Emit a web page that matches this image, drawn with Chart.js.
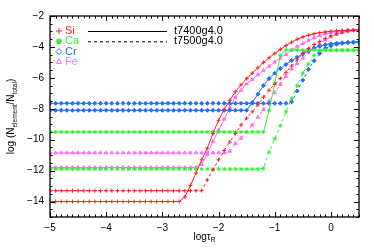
<!DOCTYPE html>
<html lang="en">
<head>
<meta charset="UTF-8">
<title>log N vs log tau</title>
<style>
  html, body { margin: 0; padding: 0; background: #fff; }
</style>
</head>
<body>
<canvas id="myChart" width="374" height="249"></canvas>
<script src="https://cdn.jsdelivr.net/npm/chart.js"></script>
<script>
// depth grid, log tau_R
var logTau = [
    -5.0, -4.9, -4.8, -4.7, -4.6, -4.5, -4.4, -4.3, -4.2, -4.1,
    -4.0, -3.9, -3.8, -3.7, -3.6, -3.5, -3.4, -3.3, -3.2, -3.1,
    -3.0, -2.9, -2.8, -2.7, -2.6, -2.5, -2.4, -2.3, -2.2, -2.1,
    -2.0, -1.9, -1.8, -1.7, -1.6, -1.5, -1.4, -1.3, -1.2, -1.1,
    -1.0, -0.9, -0.8, -0.7, -0.6, -0.5, -0.4, -0.3, -0.2, -0.1,
    0.0, 0.1, 0.2, 0.3, 0.4, 0.5
];

// log(N_el/N_tot), solid = t7400g4.0, dashed = t7500g4.0
var siT7400 = [
    -14, -14, -14, -14, -14, -14, -14, -14, -14, -14,
    -14, -14, -14, -14, -14, -14, -14, -14, -14, -14,
    -14, -14, -14, -14, -13.7, -12.95, -12.15, -11.3, -10.55, -9.6,
    -8.75, -8.05, -7.45, -6.9, -6.45, -6.05, -5.7, -5.35, -5.0, -4.7,
    -4.42, -4.15, -3.92, -3.7, -3.5, -3.36, -3.24, -3.15, -3.08, -3.03,
    -2.99, -2.96, -2.94, -2.92, -2.91, -2.9
];
var siT7500 = [
    -13.3, -13.3, -13.3, -13.3, -13.3, -13.3, -13.3, -13.3, -13.3, -13.3,
    -13.3, -13.3, -13.3, -13.3, -13.3, -13.3, -13.3, -13.3, -13.3, -13.3,
    -13.3, -13.3, -13.3, -13.3, -13.3, -13.3, -13.3, -13.3, -12.6, -11.95,
    -11.3, -10.7, -10.15, -9.6, -9.05, -8.6, -8.2, -7.75, -7.25, -6.8,
    -6.42, -6.04, -5.64, -5.23, -4.83, -4.42, -4.1, -3.85, -3.65, -3.45,
    -3.28, -3.15, -3.05, -2.98, -2.93, -2.9
];
var caT7400 = [
    -9.5, -9.5, -9.5, -9.5, -9.5, -9.5, -9.5, -9.5, -9.5, -9.5,
    -9.5, -9.5, -9.5, -9.5, -9.5, -9.5, -9.5, -9.5, -9.5, -9.5,
    -9.5, -9.5, -9.5, -9.5, -9.5, -9.5, -9.5, -9.5, -9.5, -9.5,
    -9.5, -9.5, -9.5, -9.5, -9.5, -9.5, -9.5, -9.5, -9.5, -8.1,
    -6.35, -4.55, -4.2, -4.2, -4.2, -4.2, -4.2, -4.2, -4.2, -4.2,
    -4.2, -4.2, -4.2, -4.2, -4.2, -4.2
];
var caT7500 = [
    -11.9, -11.9, -11.9, -11.9, -11.9, -11.9, -11.9, -11.9, -11.9, -11.9,
    -11.9, -11.9, -11.9, -11.9, -11.9, -11.9, -11.9, -11.9, -11.9, -11.9,
    -11.9, -11.9, -11.9, -11.9, -11.9, -11.9, -11.9, -11.9, -11.9, -11.9,
    -11.9, -11.9, -11.9, -11.9, -11.9, -11.9, -11.9, -11.9, -11.85, -10.8,
    -9.95, -9.1, -8.2, -7.35, -6.5, -5.7, -5.1, -4.55, -4.22, -4.22,
    -4.22, -4.22, -4.22, -4.22, -4.22, -4.22
];
var crT7400 = [
    -8.1, -8.1, -8.1, -8.1, -8.1, -8.1, -8.1, -8.1, -8.1, -8.1,
    -8.1, -8.1, -8.1, -8.1, -8.1, -8.1, -8.1, -8.1, -8.1, -8.1,
    -8.1, -8.1, -8.1, -8.1, -8.1, -8.1, -8.1, -8.1, -8.1, -8.1,
    -8.1, -8.1, -8.1, -8.1, -8.1, -8.1, -7.6, -7.05, -6.5, -6.05,
    -5.7, -5.4, -5.13, -4.88, -4.66, -4.45, -4.25, -4.08, -3.95, -3.86,
    -3.8, -3.76, -3.73, -3.7, -3.69, -3.68
];
var crT7500 = [
    -7.65, -7.65, -7.65, -7.65, -7.65, -7.65, -7.65, -7.65, -7.65, -7.65,
    -7.65, -7.65, -7.65, -7.65, -7.65, -7.65, -7.65, -7.65, -7.65, -7.65,
    -7.65, -7.65, -7.65, -7.65, -7.65, -7.65, -7.65, -7.65, -7.65, -7.65,
    -7.65, -7.65, -7.65, -7.65, -7.65, -7.65, -7.65, -7.65, -7.65, -7.65,
    -7.65, -7.65, -7.65, -7.55, -6.85, -6.15, -5.45, -4.9, -4.42, -4.1,
    -3.93, -3.83, -3.77, -3.73, -3.7, -3.69
];
var feT7400 = [
    -11.8, -11.8, -11.8, -11.8, -11.8, -11.8, -11.8, -11.8, -11.8, -11.8,
    -11.8, -11.8, -11.8, -11.8, -11.8, -11.8, -11.8, -11.8, -11.8, -11.8,
    -11.8, -11.8, -11.8, -11.8, -11.8, -11.8, -11.8, -11.6, -10.95, -10.1,
    -9.4, -8.67, -7.95, -7.25, -6.8, -6.4, -6.1, -5.8, -5.52, -5.25,
    -4.98, -4.72, -4.48, -4.2, -3.98, -3.78, -3.58, -3.42, -3.28, -3.16,
    -3.07, -3.0, -2.95, -2.92, -2.9, -2.88
];
var feT7500 = [
    -10.85, -10.85, -10.85, -10.85, -10.85, -10.85, -10.85, -10.85, -10.85, -10.85,
    -10.85, -10.85, -10.85, -10.85, -10.85, -10.85, -10.85, -10.85, -10.85, -10.85,
    -10.85, -10.85, -10.85, -10.85, -10.85, -10.85, -10.85, -10.85, -10.85, -10.85,
    -10.85, -10.85, -10.75, -10.25, -9.9, -9.5, -9.05, -8.55, -8.05, -7.5,
    -6.95, -6.42, -5.9, -5.42, -5.08, -4.72, -4.35, -4.02, -3.8, -3.55,
    -3.35, -3.18, -3.06, -2.98, -2.93, -2.9
];

var elements = ['Si', 'Ca', 'Cr', 'Fe'];
var models = ['t7400g4.0', 't7500g4.0'];
var xTicks = [-5, -4, -3, -2, -1, 0];
var yTicks = [-14, -12, -10, -8, -6, -4, -2];

var colors = { Si: '#ff2020', Ca: '#33ee33', Cr: '#1f6fff', Fe: '#ff6cff' };
var markers = { Si: 'cross', Ca: 'star', Cr: 'rectRot', Fe: 'triangle' };
var series = {
    Si: [siT7400, siT7500],
    Ca: [caT7400, caT7500],
    Cr: [crT7400, crT7500],
    Fe: [feT7400, feT7500]
};
var FONT = "'Liberation Sans', Arial, Helvetica, sans-serif";

function minus(v) {
    return String(v).replace('-', '\u2212');
}

var datasets = [];
elements.forEach(function (el) {
    series[el].forEach(function (vals, m) {
        datasets.push({
            label: el + ' ' + models[m],
            data: logTau.map(function (t, k) { return { x: t, y: vals[k] }; }),
            borderColor: colors[el],
            backgroundColor: colors[el],
            borderWidth: 1,
            borderDash: m == 1 ? [3, 3] : [],
            pointStyle: markers[el],
            pointRadius: 2,
            pointBorderWidth: 1,
            pointBackgroundColor: colors[el],
            pointBorderColor: colors[el],
            tension: 0
        });
    });
});

// IDL-like frame with inward ticks, legend and axis titles
var idlStyle = {
    id: 'idlStyle',
    afterDraw: function (chart) {
        var ctx = chart.ctx;
        var a = chart.chartArea;
        var xs = chart.scales.x, ys = chart.scales.y;
        ctx.save();
        ctx.strokeStyle = '#000';
        ctx.lineWidth = 1.3;
        ctx.strokeRect(a.left, a.top, a.right - a.left, a.bottom - a.top);

        ctx.lineWidth = 1;
        ctx.beginPath();
        for (var i = -50; i <= 5; i++) {
            var px = Math.round(xs.getPixelForValue(i / 10)) + 0.5;
            var len = (i % 10 == 0) ? 5 : 2.5;
            ctx.moveTo(px, a.bottom); ctx.lineTo(px, a.bottom - len);
            ctx.moveTo(px, a.top); ctx.lineTo(px, a.top + len);
        }
        for (var j = -30; j <= -4; j++) {
            var py = Math.round(ys.getPixelForValue(j / 2)) + 0.5;
            var l2 = (j % 4 == 0) ? 5 : 2.5;
            ctx.moveTo(a.left, py); ctx.lineTo(a.left + l2, py);
            ctx.moveTo(a.right, py); ctx.lineTo(a.right - l2, py);
        }
        ctx.stroke();

        // element legend (open symbols like the original)
        ctx.textBaseline = 'middle';
        ctx.textAlign = 'left';
        ctx.font = '11px ' + FONT;
        elements.forEach(function (el, i) {
            var y = 31 + i * 10.3;
            ctx.fillStyle = el == 'Ca' ? colors[el] : 'rgba(0,0,0,0)';
            ctx.strokeStyle = colors[el];
            ctx.lineWidth = el == 'Ca' ? 1.5 : 1;
            Chart.helpers.drawPoint(ctx, {
                pointStyle: markers[el], radius: 3, borderWidth: ctx.lineWidth
            }, 59, y);
            ctx.fillStyle = colors[el];
            ctx.fillText(el, 65, y);
        });

        // model legend
        ctx.strokeStyle = '#000';
        ctx.fillStyle = '#000';
        ctx.lineWidth = 1;
        models.forEach(function (m, i) {
            var y = 31 + i * 10.3;
            ctx.setLineDash(i == 1 ? [3, 3] : []);
            ctx.beginPath();
            ctx.moveTo(88, y + 0.5); ctx.lineTo(167, y + 0.5);
            ctx.stroke();
            ctx.fillText(m, 174, y);
        });
        ctx.setLineDash([]);

        // y title: log (N_element/N_total)
        var parts = [['log (N', 10, 0], ['element', 6.5, 3], ['/N', 10, 0], ['total', 6.5, 3], [')', 10, 0]];
        ctx.save();
        ctx.translate(14, (a.top + a.bottom) / 2);
        ctx.rotate(-Math.PI / 2);
        drawParts(ctx, parts);
        ctx.restore();

        // x title: log tau_R
        ctx.save();
        ctx.translate((a.left + a.right) / 2, 240);
        drawParts(ctx, [['log\u03c4', 10, 0], ['R', 6.5, 2]]);
        ctx.restore();

        ctx.restore();
    }
};

function drawParts(ctx, parts) {
    var total = 0;
    parts.forEach(function (p) {
        ctx.font = p[1] + 'px ' + FONT;
        total += ctx.measureText(p[0]).width;
    });
    var x = -total / 2;
    ctx.fillStyle = '#000';
    ctx.textAlign = 'left';
    ctx.textBaseline = 'alphabetic';
    parts.forEach(function (p) {
        ctx.font = p[1] + 'px ' + FONT;
        ctx.fillText(p[0], x, p[2]);
        x += ctx.measureText(p[0]).width;
    });
}

var ctx01 = document.getElementById('myChart');
var mychart01 = new Chart(ctx01, {
    type: 'line',
    data: { datasets: datasets },
    options: {
        responsive: false,
        animation: false,
        layout: { padding: { top: 16, right: 15, left: 0, bottom: 0 } },
        plugins: { legend: { display: false }, tooltip: { enabled: false } },
        scales: {
            x: {
                type: 'linear',
                min: -5,
                max: 0.5,
                afterBuildTicks: function (s) {
                    s.ticks = xTicks.map(function (v) { return { value: v }; });
                },
                afterFit: function (s) { s.height = 32; },
                grid: { display: false, drawTicks: false },
                border: { display: false },
                ticks: {
                    color: '#000',
                    padding: 5,
                    maxRotation: 0,
                    font: { family: FONT, size: 10 },
                    callback: function (v) { return minus(v); }
                }
            },
            y: {
                type: 'linear',
                min: -15,
                max: -2,
                afterBuildTicks: function (s) {
                    s.ticks = yTicks.map(function (v) { return { value: v }; });
                },
                afterFit: function (s) { s.width = 50; },
                grid: { display: false, drawTicks: false },
                border: { display: false },
                ticks: {
                    color: '#000',
                    padding: 6,
                    font: { family: FONT, size: 10 },
                    callback: function (v) { return minus(v); }
                }
            }
        }
    },
    plugins: [idlStyle]
});
</script>
</body>
</html>
